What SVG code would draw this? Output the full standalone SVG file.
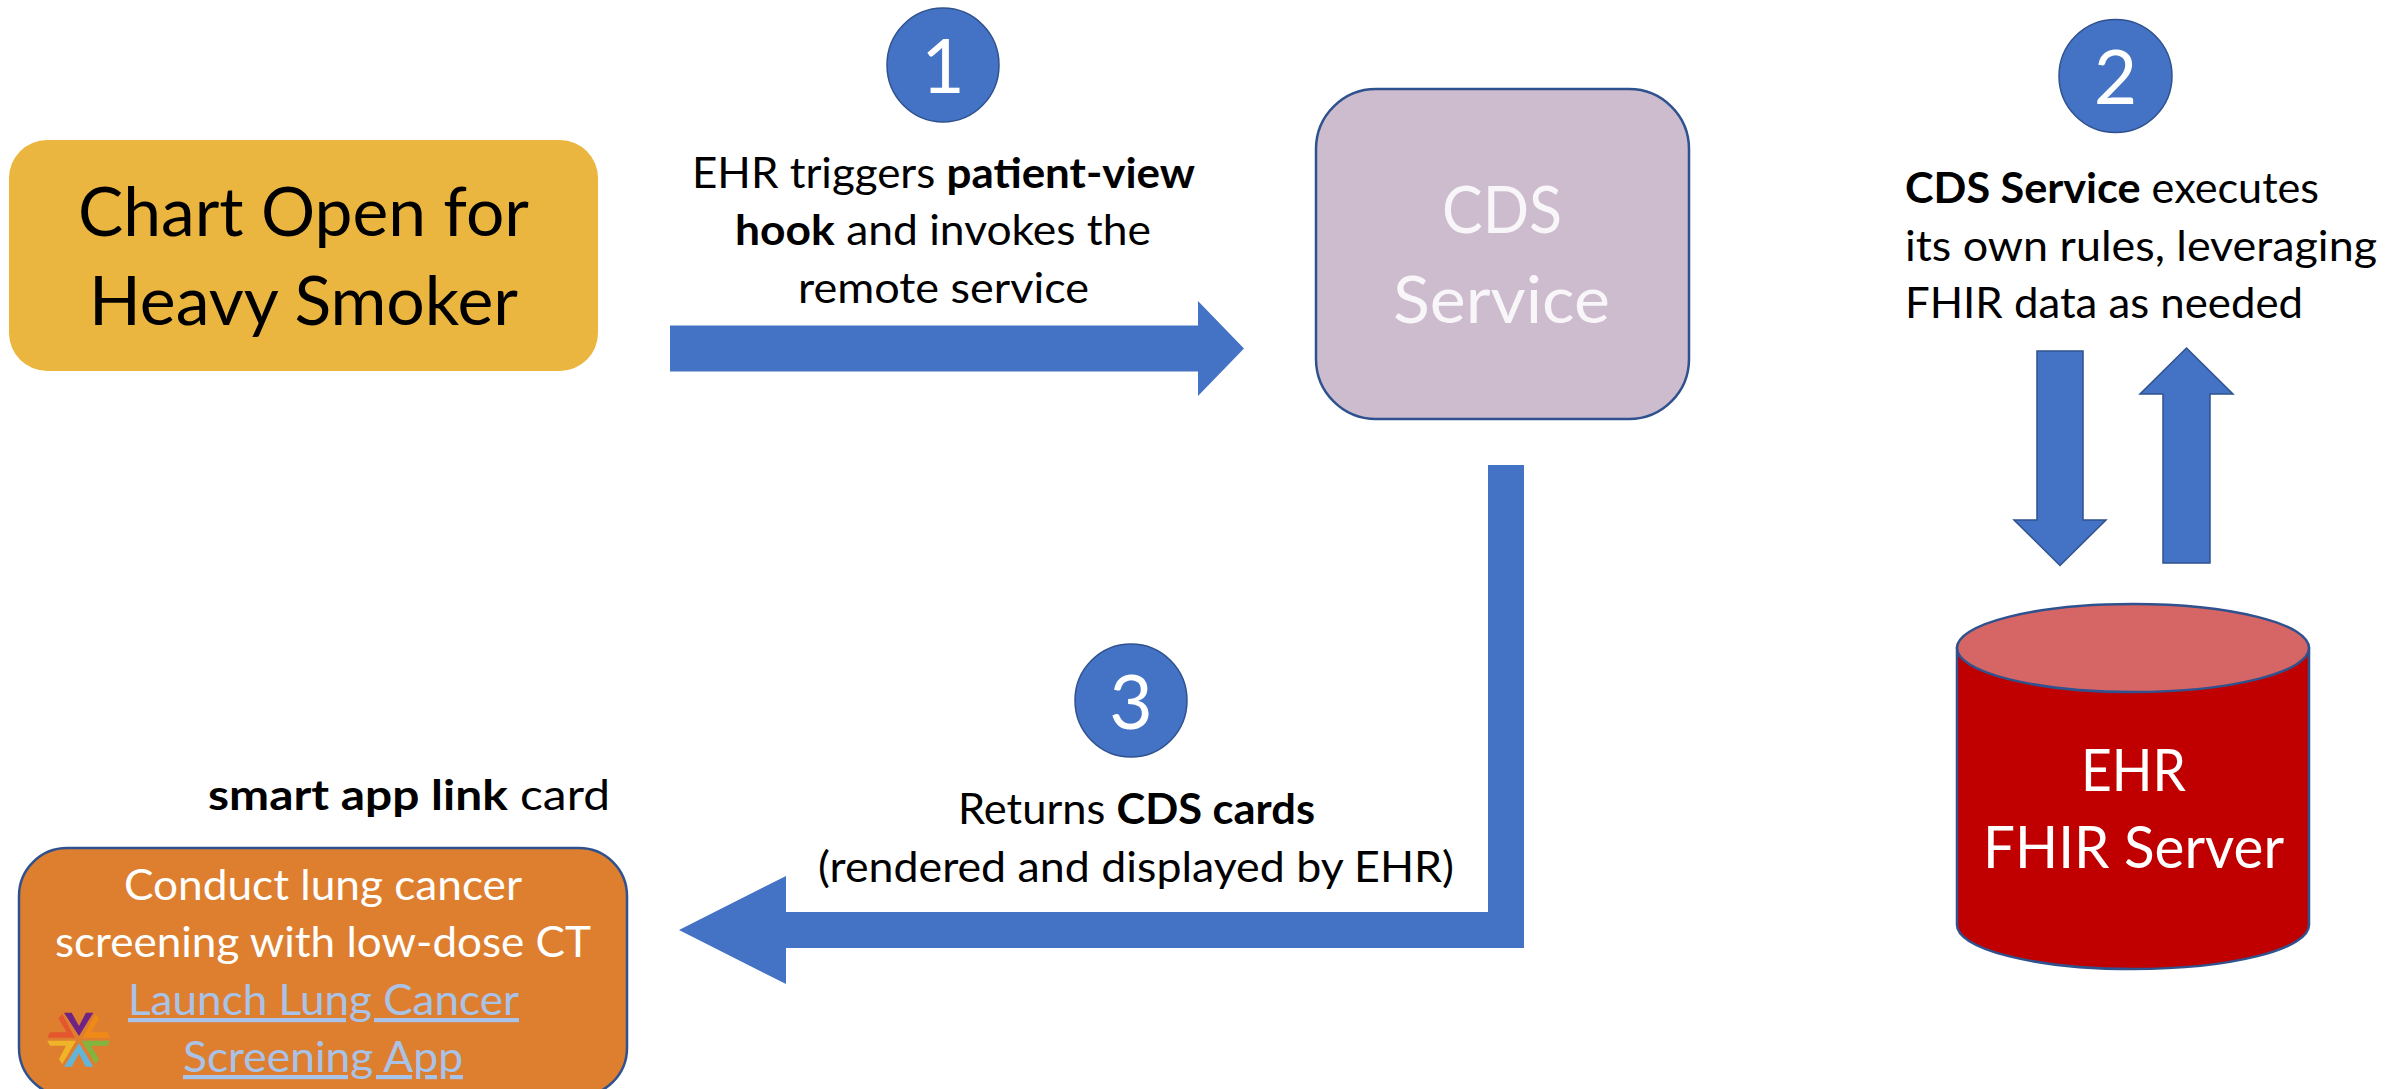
<svg xmlns="http://www.w3.org/2000/svg" width="2408" height="1089" viewBox="0 0 2408 1089">
<style>
text{font-family:Lato,"Open Sans","Liberation Sans",sans-serif;font-size:42px;fill:#000}
.b{font-weight:700}
.w{fill:#fff}
.num{font-size:75px;fill:#fff;text-anchor:middle}
.big{font-size:68px}
.cds{font-size:66px;fill:#f8f6f9}
.srv{font-size:58px;fill:#fff}
.lnk{fill:#a9c3e8;text-decoration:underline}
.blue{fill:#4472c4;stroke:#2f528f;stroke-width:1.5}
.flat{fill:#4472c4}
.box{stroke:#2f528f;stroke-width:2.500}
</style>
<g id="connectors">
<polygon id="arrow-1" class="flat" points="670,325.500 1198,325.500 1198,301 1244,348.500 1198,396 1198,371.500 670,371.500"/>
<polygon id="arrow-down" class="blue" points="2037,351 2083,351 2083,520 2106,520 2060,565.500 2014,520 2037,520"/>
<polygon id="arrow-up" class="blue" points="2163,563 2210,563 2210,394 2233,394 2186.500,348 2140,394 2163,394"/>
<polygon id="arrow-3" class="flat" points="1488,465 1524,465 1524,948 786,948 786,984 679,930 786,876 786,912 1488,912"/>
</g>
<g id="node-chart">
<rect x="9" y="140" width="589" height="231" rx="38" fill="#ebb63f"/>
<text class="big" x="78" y="236" textLength="451" lengthAdjust="spacingAndGlyphs">Chart Open for</text>
<text class="big" x="89" y="325" textLength="429" lengthAdjust="spacingAndGlyphs">Heavy Smoker</text>
</g>
<g id="node-step1">
<ellipse cx="943" cy="65" rx="56" ry="57" class="blue"/>
<text class="num" x="943" y="93">1</text>
</g>
<g id="label-step1">
<text x="692" y="188" textLength="503" lengthAdjust="spacingAndGlyphs">EHR triggers <tspan class="b">patient-view</tspan></text>
<text x="735" y="245" textLength="416" lengthAdjust="spacingAndGlyphs"><tspan class="b">hook</tspan> and invokes the</text>
<text x="798" y="303" textLength="291" lengthAdjust="spacingAndGlyphs">remote service</text>
</g>
<g id="node-cds">
<rect x="1316" y="89" width="373" height="330" rx="60" fill="#cdbbce" class="box"/>
<text class="cds" x="1442" y="233" textLength="120" lengthAdjust="spacingAndGlyphs">CDS</text>
<text class="cds" x="1393" y="323" textLength="217" lengthAdjust="spacingAndGlyphs">Service</text>
</g>
<g id="node-step2">
<circle cx="2115.500" cy="76" r="56.500" class="blue"/>
<text class="num" x="2115.500" y="104">2</text>
</g>
<g id="label-step2">
<text x="1905" y="203" textLength="414" lengthAdjust="spacingAndGlyphs"><tspan class="b">CDS Service</tspan> executes</text>
<text x="1905" y="261" textLength="472" lengthAdjust="spacingAndGlyphs">its own rules, leveraging</text>
<text x="1905" y="318" textLength="398" lengthAdjust="spacingAndGlyphs">FHIR data as needed</text>
</g>
<g id="node-ehr">
<path d="M1957 648V925A176 44 0 0 0 2309 925V648Z" fill="#c00000" class="box"/>
<ellipse cx="2133" cy="648" rx="176" ry="44" fill="#d66565" class="box"/>
<text class="srv" x="2081" y="791" textLength="105" lengthAdjust="spacingAndGlyphs">EHR</text>
<text class="srv" x="1983" y="868" textLength="301" lengthAdjust="spacingAndGlyphs">FHIR Server</text>
</g>
<g id="node-step3">
<ellipse cx="1131" cy="700.500" rx="56" ry="56.500" class="blue"/>
<text class="num" x="1131" y="729">3</text>
</g>
<g id="label-step3">
<text x="958" y="824" textLength="357" lengthAdjust="spacingAndGlyphs">Returns <tspan class="b">CDS cards</tspan></text>
<text x="818" y="882" textLength="636" lengthAdjust="spacingAndGlyphs">(rendered and displayed by EHR)</text>
</g>
<g id="label-card">
<text x="208" y="810" textLength="402" lengthAdjust="spacingAndGlyphs"><tspan class="b">smart app link</tspan> card</text>
</g>
<g id="node-card">
<rect x="19" y="848" width="608" height="248" rx="48" fill="#de7f30" class="box"/>
<text class="w" x="124" y="900" textLength="398" lengthAdjust="spacingAndGlyphs">Conduct lung cancer</text>
<text class="w" x="55" y="957" textLength="536" lengthAdjust="spacingAndGlyphs">screening with low-dose CT</text>
<text class="lnk" x="128" y="1015" textLength="391" lengthAdjust="spacingAndGlyphs">Launch Lung Cancer</text>
<text class="lnk" x="183" y="1072" textLength="280" lengthAdjust="spacingAndGlyphs">Screening App</text>
<g id="logo" transform="translate(30 990) scale(.3333)">
<polygon fill="#6f2384" points="102,68 125,68 147,108 168,68 190,68 147,138"/>
<polygon fill="#e4572e" points="97,72 85,85 110,127 60,127 52,143 135,143"/>
<polygon fill="#ef8a17" points="197,72 207,85 183,127 232,127 240,143 158,143"/>
<polygon fill="#82b540" points="240,152 232,167 183,167 207,208 197,222 155,152"/>
<polygon fill="#f0b429" points="52,152 60,167 108,167 87,208 97,222 138,152"/>
<polygon fill="#62b5d9" points="147,160 190,230 167,230 147,190 125,230 102,230"/>
</g>
</g>
</svg>
